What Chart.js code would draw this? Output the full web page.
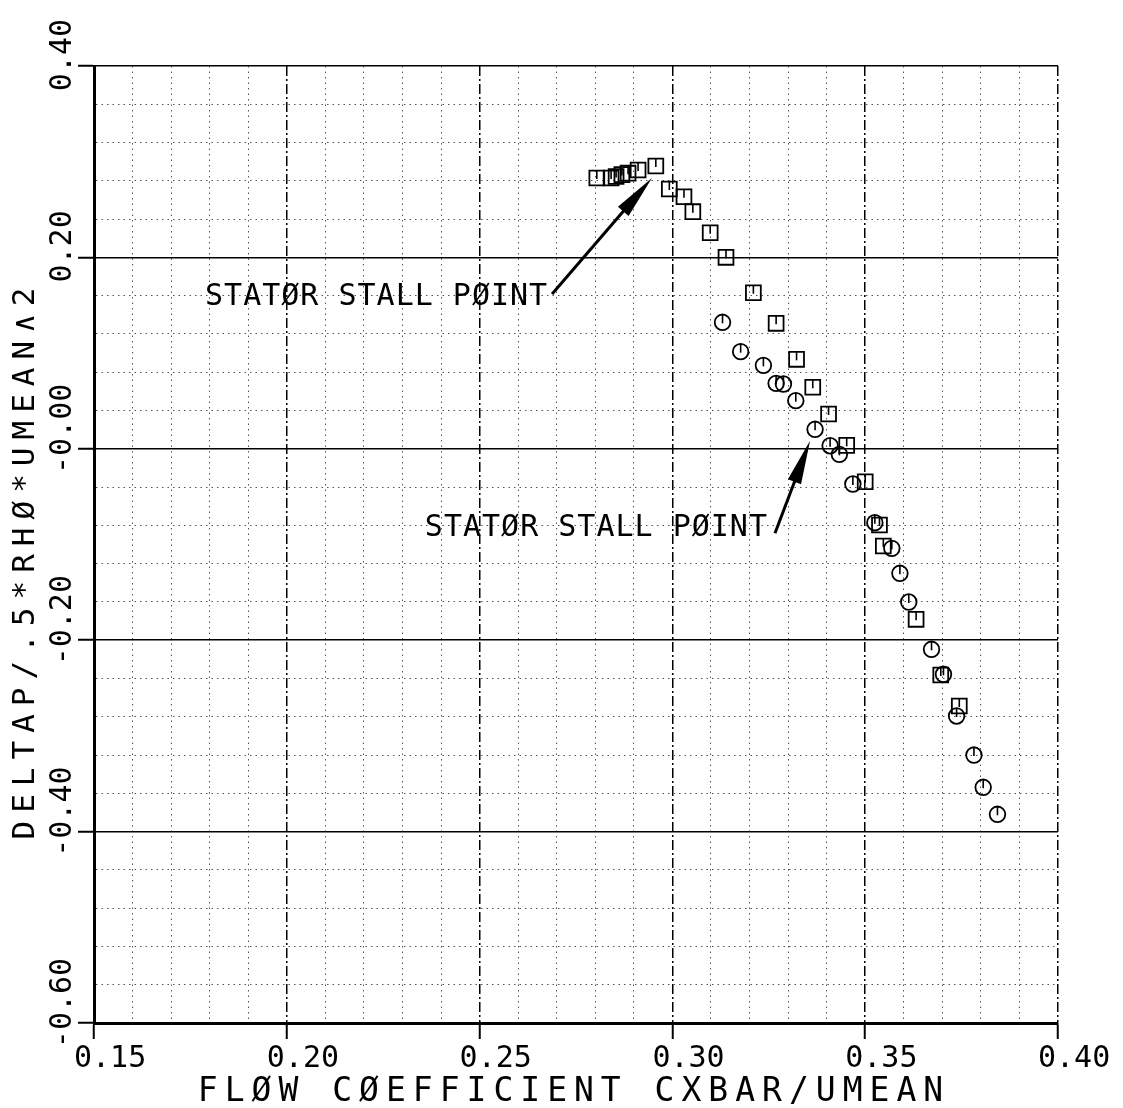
<!DOCTYPE html>
<html>
<head>
<meta charset="utf-8">
<script src="https://cdn.jsdelivr.net/npm/chart.js@4.4.1/dist/chart.umd.min.js"></script>
<style>
  html, body { margin: 0; padding: 0; background: #fff; }
  canvas { display: block; }
</style>
</head>
<body>
<canvas id="myChart" width="1123" height="1108"></canvas>
<script>
// square symbols
const squareX = [0.2804, 0.2841, 0.2854, 0.2869, 0.2885, 0.2911, 0.2957, 0.2992, 0.3030, 0.3053,
  0.3098, 0.3139, 0.3210, 0.3269, 0.3322, 0.3364, 0.3405, 0.3452, 0.3500, 0.3537,
  0.3547, 0.3632, 0.3696, 0.3744];
const squareY = [0.2830, 0.2830, 0.2845, 0.2865, 0.2880, 0.2913, 0.2955, 0.2715, 0.2634, 0.2478,
  0.2258, 0.2001, 0.1631, 0.1311, 0.0935, 0.0643, 0.0364, 0.0036, -0.0344, -0.0796,
  -0.1016, -0.1782, -0.2364, -0.2688];

// circle symbols
const circleX = [0.3130, 0.3177, 0.3236, 0.3269, 0.3288, 0.3320, 0.3370, 0.3409, 0.3433, 0.3468,
  0.3525, 0.3569, 0.3590, 0.3613, 0.3672, 0.3703, 0.3737, 0.3782, 0.3806, 0.3843];
const circleY = [0.1322, 0.1015, 0.0872, 0.0684, 0.0677, 0.0503, 0.0204, 0.0032, -0.0058, -0.0368,
  -0.0772, -0.1040, -0.1301, -0.1601, -0.2095, -0.2356, -0.2792, -0.3200, -0.3537, -0.3819];

const xTitle = 'FLØW CØEFFICIENT CXBAR/UMEAN';
const yTitle = 'DELTAP/.5*RHØ*UMEAN∧2';

// labels + arrows, in data units
const notes = [
  { text: 'STATØR STALL PØINT', x: 0.1788, y: 0.1586, fromX: 0.2688, fromY: 0.1618, toX: 0.2947, toY: 0.2830 },
  { text: 'STATØR STALL PØINT', x: 0.2358, y: -0.0833, fromX: 0.3266, fromY: -0.0883, toX: 0.3357, toY: 0.0085 }
];

const FONT = 'DejaVu Sans Mono';
const isMajor = (v, step) => Math.abs(v / step - Math.round(v / step)) < 1e-6;

const plotterExtras = {
  id: 'plotterExtras',
  afterDatasetsDraw(chart) {
    // little stroke from the top of every symbol to its centre
    const ctx = chart.ctx;
    ctx.save();
    ctx.strokeStyle = '#000';
    ctx.lineWidth = 1.6;
    chart.data.datasets.forEach((ds, i) => {
      const half = ds.pointStyle === 'rect' ? ds.pointRadius * Math.SQRT1_2 : ds.pointRadius;
      chart.getDatasetMeta(i).data.forEach(pt => {
        ctx.beginPath();
        ctx.moveTo(pt.x, pt.y - half);
        ctx.lineTo(pt.x, pt.y + 1);
        ctx.stroke();
      });
    });
    ctx.restore();
  },
  afterDraw(chart) {
    const {ctx, chartArea, scales: {x, y}} = chart;
    ctx.save();
    ctx.fillStyle = '#000';
    ctx.strokeStyle = '#000';
    ctx.font = '30px "' + FONT + '"';
    ctx.textBaseline = 'middle';
    ctx.textAlign = 'left';
    ctx.letterSpacing = '1px';
    notes.forEach(n => {
      ctx.fillText(n.text, x.getPixelForValue(n.x), y.getPixelForValue(n.y));
      const x0 = x.getPixelForValue(n.fromX), y0 = y.getPixelForValue(n.fromY);
      const x1 = x.getPixelForValue(n.toX), y1 = y.getPixelForValue(n.toY);
      const a = Math.atan2(y1 - y0, x1 - x0);
      const c = Math.cos(a), s = Math.sin(a);
      ctx.lineWidth = 3;
      ctx.beginPath();
      ctx.moveTo(x0, y0);
      ctx.lineTo(x1 - 30 * c, y1 - 30 * s);
      ctx.stroke();
      ctx.beginPath();
      ctx.moveTo(x1, y1);
      ctx.lineTo(x1 - 44 * c + 7 * s, y1 - 44 * s - 7 * c);
      ctx.lineTo(x1 - 44 * c - 7 * s, y1 - 44 * s + 7 * c);
      ctx.closePath();
      ctx.fill();
    });

    // axis titles, wide plotter spacing
    ctx.textAlign = 'center';
    ctx.font = '33px "' + FONT + '"';
    ctx.letterSpacing = '7px';
    ctx.fillText(xTitle, (chartArea.left + chartArea.right) / 2 - 2, chartArea.bottom + 69);
    ctx.font = '31px "' + FONT + '"';
    ctx.letterSpacing = '8px';
    ctx.translate(26, (chartArea.top + chartArea.bottom) / 2 + 15);
    ctx.rotate(-Math.PI / 2);
    ctx.fillText(yTitle, 0, 0);
    ctx.restore();
  }
};

const gridStyle = step => ({
  color: c => isMajor(c.tick.value, step) ? '#000' : '#555',
  lineWidth: c => isMajor(c.tick.value, step) ? 1.5 : 1,
  tickColor: c => isMajor(c.tick.value, step) ? '#000' : 'rgba(0,0,0,0)',
  tickLength: 16,
  tickWidth: 2
});

const ctx = document.getElementById('myChart');

new Chart(ctx, {
  type: 'scatter',
  data: {
    datasets: [{
      label: 'squares',
      data: squareX.map((v, i) => ({x: v, y: squareY[i]})),
      pointStyle: 'rect',
      pointRadius: 10.5,
      pointHoverRadius: 10.5,
      borderColor: '#000',
      backgroundColor: 'rgba(0,0,0,0)',
      borderWidth: 1.8
    }, {
      label: 'circles',
      data: circleX.map((v, i) => ({x: v, y: circleY[i]})),
      pointStyle: 'circle',
      pointRadius: 7.8,
      pointHoverRadius: 7.8,
      borderColor: '#000',
      backgroundColor: 'rgba(0,0,0,0)',
      borderWidth: 1.8
    }]
  },
  options: {
    responsive: false,
    animation: false,
    events: [],
    layout: { autoPadding: false, padding: { left: 0, top: 66, right: 65, bottom: 0 } },
    plugins: { legend: { display: false }, tooltip: { enabled: false } },
    scales: {
      x: {
        type: 'linear',
        min: 0.15,
        max: 0.40,
        afterFit: s => { s.height = 85; s.paddingLeft = 0; s.paddingRight = 0; },
        ticks: {
          stepSize: 0.01,
          autoSkip: false,
          minRotation: 0,
          maxRotation: 0,
          align: 'start',
          labelOffset: -20,
          padding: 2,
          color: '#000',
          font: { family: FONT, size: 30 },
          callback: v => isMajor(v, 0.05) ? v.toFixed(2) : ''
        },
        grid: gridStyle(0.05),
        border: {
          color: '#000',
          width: 3,
          dash: c => !c.tick ? [] : isMajor(c.tick.value, 0.05) ? [10, 3, 2, 3] : [1.5, 4]
        }
      },
      y: {
        type: 'linear',
        min: -0.60,
        max: 0.40,
        afterFit: s => { s.width = 94; s.paddingTop = 0; s.paddingBottom = 0; },
        ticks: {
          stepSize: 0.04,
          autoSkip: false,
          minRotation: 90,
          maxRotation: 90,
          crossAlign: 'center',
          labelOffset: -20,
          padding: -30,
          color: '#000',
          font: { family: FONT, size: 30 },
          // all labels 5 characters wide so they start at the same spot under the tick
          callback: v => {
            if (!isMajor(v, 0.2)) return '';
            if (Math.abs(v) < 1e-9) return '-0.00';
            return v > 0 ? v.toFixed(2) + ' ' : v.toFixed(2);
          }
        },
        grid: gridStyle(0.2),
        border: {
          color: '#000',
          width: 3,
          dash: c => !c.tick ? [] : isMajor(c.tick.value, 0.2) ? [] : [1.5, 4]
        }
      }
    }
  },
  plugins: [plotterExtras]
});
</script>
</body>
</html>
